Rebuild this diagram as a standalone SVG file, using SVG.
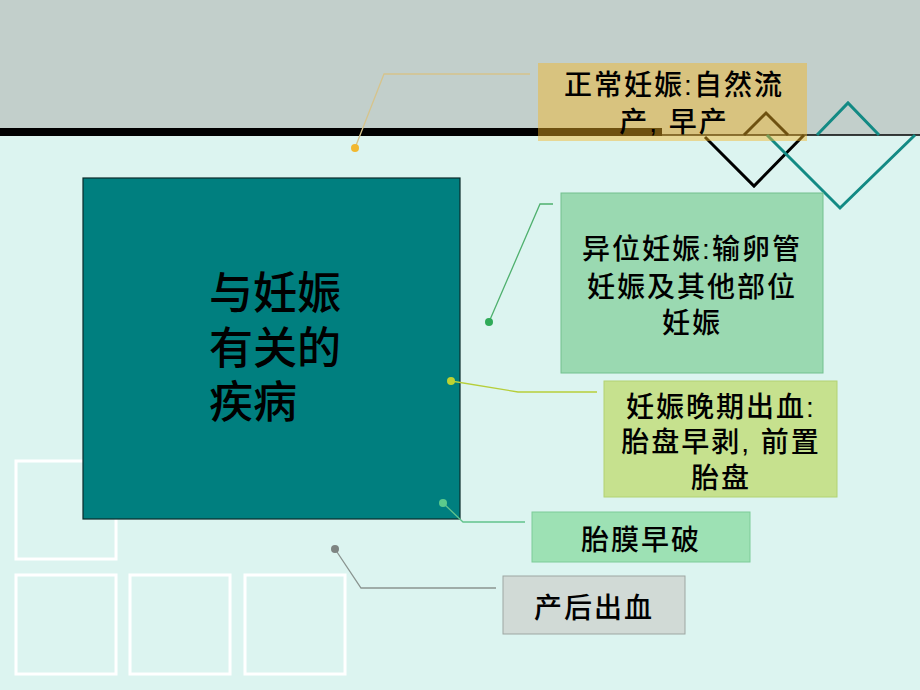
<svg xmlns="http://www.w3.org/2000/svg" width="920" height="690" viewBox="0 0 920 690">
<style>
.t{font-family:"Liberation Sans","Noto Sans CJK SC",sans-serif;fill:#000;font-weight:500;}
.s{font-size:28px;text-anchor:middle;letter-spacing:2px;}
.big{font-size:44px;}
.sq{fill:none;stroke:#ffffff;stroke-width:3;}
.cn{fill:none;stroke-width:1.3;}
</style>
<rect x="0" y="0" width="920" height="690" fill="#DCF4F0"/>
<rect x="0" y="0" width="920" height="135" fill="#C2CFCB"/>
<rect x="0" y="128" width="662" height="8" fill="#000"/>
<line x1="0" y1="135" x2="920" y2="135" stroke="#000" stroke-width="1.5"/>
<g id="deco">
<polyline points="744,135 766,113 788,135" fill="none" stroke="#000" stroke-width="3"/>
<polyline points="705,137 754,186 804,135" fill="none" stroke="#000" stroke-width="3"/>
<polyline points="817,135 848,103 879,135" fill="none" stroke="#138A84" stroke-width="3"/>
<polyline points="767,135 840,208 915,135" fill="none" stroke="#138A84" stroke-width="3"/>
<rect class="sq" x="16" y="461" width="100" height="98"/>
<rect class="sq" x="16" y="575" width="100" height="99"/>
<rect class="sq" x="130" y="575" width="100" height="99"/>
<rect class="sq" x="245" y="575" width="100" height="99"/>
</g>
<g id="main">
<rect x="83" y="178" width="377" height="341" fill="#007F7F" stroke="#0a2a2a" stroke-width="1.2"/>
<text class="t big"><tspan x="209" y="309">与妊娠</tspan><tspan x="209" y="364">有关的</tspan><tspan x="209" y="418">疾病</tspan></text>
</g>
<g id="connectors">
<polyline class="cn" points="355,148 384,74 530,74" stroke="#D6C48C" stroke-width="1.6"/>
<circle cx="355" cy="148" r="4" fill="#F2B830"/>
<polyline class="cn" points="489,322 540,204 553,204" stroke="#4FB06E"/>
<circle cx="489" cy="322" r="4" fill="#2FAA58"/>
<polyline class="cn" points="451,381 518,392 597,392" stroke="#B6CE3A"/>
<circle cx="451" cy="381" r="4" fill="#BCD232"/>
<polyline class="cn" points="443,503 463,522 525,522" stroke="#62C28C"/>
<circle cx="443" cy="503" r="4" fill="#5CCB8C"/>
<polyline class="cn" points="335,549 361,588 496,588" stroke="#8A9490"/>
<circle cx="335" cy="549" r="4" fill="#7E8482"/>
</g>
<g id="n1">
<rect x="538" y="63" width="269" height="78" fill="#F4B424" fill-opacity="0.45"/>
<text class="t s"><tspan x="674" y="95">正常妊娠:自然流</tspan><tspan x="674" y="132">产, 早产</tspan></text>
</g>
<g id="n2">
<rect x="561" y="193" width="262" height="180" fill="#9AD9B1" stroke="#72C08E" stroke-width="1"/>
<text class="t s"><tspan x="692" y="259">异位妊娠:输卵管</tspan><tspan x="692" y="297">妊娠及其他部位</tspan><tspan x="692" y="333">妊娠</tspan></text>
</g>
<g id="n3">
<rect x="604" y="381" width="233" height="116" fill="#C6E18E" stroke="#B2D273" stroke-width="1"/>
<text class="t s"><tspan x="721" y="417">妊娠晚期出血:</tspan><tspan x="721" y="452">胎盘早剥, 前置</tspan><tspan x="721" y="488">胎盘</tspan></text>
</g>
<g id="n4">
<rect x="532" y="512" width="218" height="50" fill="#9DE1B4" stroke="#7DCB98" stroke-width="1"/>
<text class="t s" x="641" y="550">胎膜早破</text>
</g>
<g id="n5">
<rect x="503" y="576" width="182" height="58" fill="#D1DAD6" stroke="#9DA6A2" stroke-width="1"/>
<text class="t s" x="594" y="618">产后出血</text>
</g>
</svg>
